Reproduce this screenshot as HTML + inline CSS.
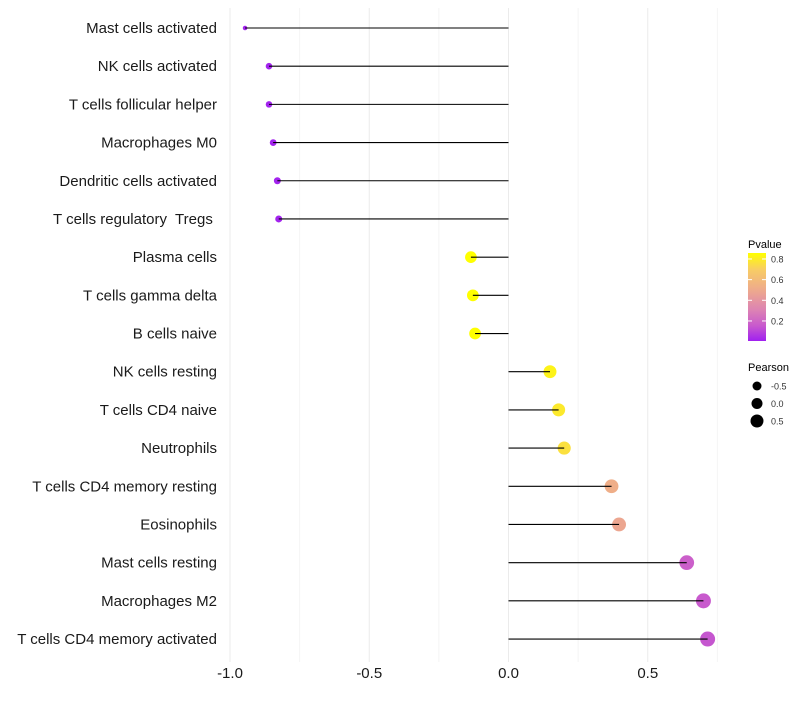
<!DOCTYPE html>
<html><head><meta charset="utf-8"><style>
body{margin:0;background:#fff;font-family:"Liberation Sans",sans-serif}
</style></head><body>
<svg id="chart" width="800" height="700" xmlns="http://www.w3.org/2000/svg"></svg>
<script>
const categories=["Mast cells activated","NK cells activated","T cells follicular helper","Macrophages M0","Dendritic cells activated","T cells regulatory  Tregs ","Plasma cells","T cells gamma delta","B cells naive","NK cells resting","T cells CD4 naive","Neutrophils","T cells CD4 memory resting","Eosinophils","Mast cells resting","Macrophages M2","T cells CD4 memory activated"];
const pearson=[-0.946,-0.86,-0.86,-0.845,-0.83,-0.825,-0.135,-0.128,-0.12,0.149,0.18,0.2,0.37,0.397,0.64,0.70,0.715];
const pvalue=[0.01,0.01,0.01,0.01,0.01,0.01,0.86,0.86,0.86,0.82,0.79,0.76,0.52,0.48,0.17,0.15,0.14];
const xTicks=[-1,-0.5,0,0.5];
const xTickLabels=["-1.0","-0.5","0.0","0.5"];
const pTicks=[0.2,0.4,0.6,0.8];
const sizeLegend=[-0.5,0,0.5];

const svg=document.getElementById('chart');
const NS='http://www.w3.org/2000/svg';
function mk(t,a,parent){const e=document.createElementNS(NS,t);for(const k in a)e.setAttribute(k,a[k]);(parent||svg).appendChild(e);return e;}
const x=v=>508.5+v*278.5;
const y=i=>28+i*38.19;
const r=v=>2+5.5*Math.sqrt(Math.max(0,v+0.95)/1.67);
function lerp(a,b,t){return a.map((c,i)=>Math.round(c+(b[i]-c)*t));}
const stops=[[0,[160,32,240]],[0.15,[200,90,205]],[0.3,[220,130,180]],[0.5,[238,170,140]],[0.7,[248,205,100]],[0.86,[255,255,0]]];
function col(p){p=Math.max(0,Math.min(0.86,p));for(let k=0;k<stops.length-1;k++){const[a,ca]=stops[k],[b,cb]=stops[k+1];if(p<=b){const c=lerp(ca,cb,(p-a)/(b-a));return`rgb(${c})`;}}return'rgb(255,255,0)';}

[-1,-0.75,-0.5,-0.25,0,0.25,0.5,0.75].forEach(v=>{const g=mk('line',{x1:x(v),x2:x(v),y1:8,y2:662,stroke:Number.isInteger(v*2)?'#ebebeb':'#f4f4f4','stroke-width':1});
});
categories.forEach((c,i)=>{
 const t=mk('text',{x:217,y:y(i)+5,'text-anchor':'end','font-size':15,fill:'#1a1a1a','xml:space':'preserve',style:'white-space:pre'});t.textContent=c;
 
 const ci=mk('circle',{cx:x(pearson[i]),cy:y(i),r:r(pearson[i]),fill:col(pvalue[i])});
 
 const l=mk('line',{x1:x(0),x2:x(pearson[i]),y1:y(i),y2:y(i),stroke:'#000','stroke-width':1.1});
 
});
xTicks.forEach((v,i)=>{const t=mk('text',{x:x(v),y:678,'text-anchor':'middle','font-size':15,fill:'#1a1a1a'});t.textContent=xTickLabels[i];
 });
const lt=mk('text',{x:748,y:248,'font-size':11,fill:'#000'});lt.textContent='Pvalue';

const defs=mk('defs',{});const gr=mk('linearGradient',{id:'pg',x1:0,y1:1,x2:0,y2:0},defs);
stops.forEach(s=>mk('stop',{offset:s[0]/0.86,'stop-color':col(s[0])},gr));
const pb=v=>341-(v-0.006)*103.3;
const bar=mk('rect',{x:748,y:253,width:18,height:88,fill:'url(#pg)'});

pTicks.forEach(p=>{mk('line',{x1:748,x2:752,y1:pb(p),y2:pb(p),stroke:'#fff'});mk('line',{x1:762,x2:766,y1:pb(p),y2:pb(p),stroke:'#fff'});
 const t=mk('text',{x:771,y:pb(p)+3.5,'font-size':9,fill:'#333'});t.textContent=p.toFixed(1);
 });
const st=mk('text',{x:748,y:371,'font-size':11,fill:'#000'});st.textContent='Pearson';

const legR=[4.5,5.5,6.5];
sizeLegend.forEach((v,i)=>{const cy=386+i*17.5;const c=mk('circle',{cx:757,cy:cy,r:legR[i],fill:'#000'});
 
 const t=mk('text',{x:771,y:cy+3.5,'font-size':9,fill:'#333'});t.textContent=v.toFixed(1);
 });
</script>
</body></html>
